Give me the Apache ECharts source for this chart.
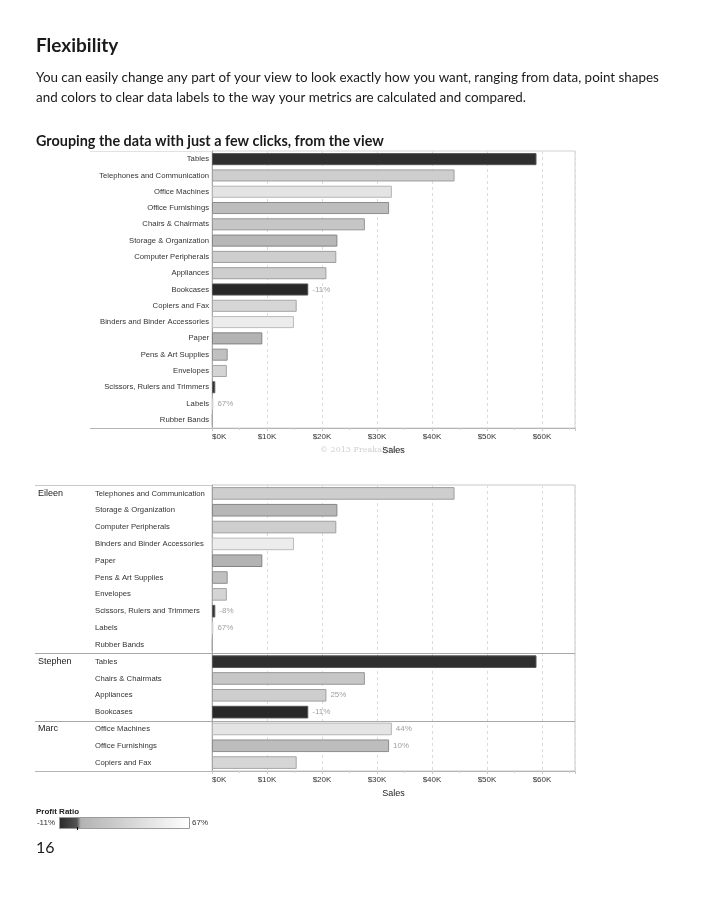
<!DOCTYPE html>
<html><head><meta charset="utf-8">
<script src="https://cdn.jsdelivr.net/npm/echarts@6/dist/echarts.min.js"></script>
<style>html,body{margin:0;padding:0;background:#fff}#c{width:720px;height:900px}</style>
</head><body><div id="c"></div>
<script>
// ---------- data ----------
const subCategories = ['Tables','Telephones and Communication','Office Machines','Office Furnishings','Chairs & Chairmats','Storage & Organization','Computer Peripherals','Appliances','Bookcases','Copiers and Fax','Binders and Binder Accessories','Paper','Pens & Art Supplies','Envelopes','Scissors, Rulers and Trimmers','Labels','Rubber Bands'];
const sales = [59000,44100,32700,32200,27800,22800,22600,20800,17500,15400,14900,9150,2850,2700,600,250,120];
const profitRatio = [-0.093,0.25,0.44,0.10,0.18,0.05,0.25,0.25,-0.11,0.32,0.51,0.02,0.13,0.30,-0.08,0.67,0.30];
const managers = ['Eileen','Stephen','Marc'];
const eileenItems = ['Telephones and Communication','Storage & Organization','Computer Peripherals','Binders and Binder Accessories','Paper','Pens & Art Supplies','Envelopes','Scissors, Rulers and Trimmers','Labels','Rubber Bands'];
const stephenItems = ['Tables','Chairs & Chairmats','Appliances','Bookcases'];
const marcItems = ['Office Machines','Office Furnishings','Copiers and Fax'];
const topLabelled = ['Bookcases','Labels'];
const bottomLabelled = ['Scissors, Rulers and Trimmers','Labels','Appliances','Bookcases','Office Machines','Office Furnishings'];
const salesTicks = [0,10000,20000,30000,40000,50000,60000];
const ratioRange = [-0.11, 0.67];

// ---------- helpers ----------
function grayOf(r){
  let g;
  if (r < 0) g = 40 + (r - ratioRange[0]) / (0 - ratioRange[0]) * 45;
  else g = 177 + (255 - 177) * Math.min(r / ratioRange[1], 1);
  return Math.round(Math.max(0, Math.min(255, g)));
}
function rgb(g){ return 'rgb(' + g + ',' + g + ',' + g + ')'; }
function pct(r){ return Math.round(r * 100) + '%'; }
function barItem(name, labelled){
  const i = subCategories.indexOf(name);
  const g = grayOf(profitRatio[i]);
  const b = g < 128 ? Math.min(255, g + 40) : g - 48;
  return {
    value: sales[i],
    itemStyle: { color: rgb(g), borderColor: rgb(b), borderWidth: 1 },
    label: { show: labelled.indexOf(name) >= 0, formatter: pct(profitRatio[i]) }
  };
}

const bottomCats = eileenItems.concat(stephenItems, marcItems);
const groupStarts = [0, eileenItems.length, eileenItems.length + stephenItems.length];

// ---------- layout ----------
const G1 = { left: 212, top: 151, width: 363, height: 277 };
const G2 = { left: 212, top: 485, width: 363, height: 286 };
const FONT = '"Liberation Sans", Arial, sans-serif';
const TXT = 'Lato, "Open Sans", sans-serif';

function xAxisCfg(gi){
  return {
    type: 'value', gridIndex: gi, min: 0, max: 66000, interval: 10000,
    axisLine: { show: true, lineStyle: { color: '#b5b5b5' } },
    axisTick: { show: true, length: 3, lineStyle: { color: '#c8c8c8' } },
    minorTick: { show: true, splitNumber: 2, length: 2, lineStyle: { color: '#d0d0d0' } },
    axisLabel: { fontSize: 8, fontFamily: FONT, color: '#333', margin: 5, showMaxLabel: false,
      alignMinLabel: 'left',
      formatter: v => salesTicks.indexOf(v) >= 0 ? '$' + (v / 1000) + 'K' : '' },
    splitLine: { show: true, lineStyle: { type: [3, 3], color: '#dcdcdc' } },
    name: 'Sales', nameLocation: 'middle', nameGap: 18,
    nameTextStyle: { fontSize: 9, fontFamily: FONT, color: '#222' }
  };
}
const barLabel = { position: 'right', distance: 4, color: '#a0a0a0', fontSize: 8, fontFamily: FONT };

const option = {
  backgroundColor: '#fff',
  animation: false,
  grid: [
    Object.assign({ show: true, borderColor: '#d2d2d2', borderWidth: 1, containLabel: false }, G1),
    Object.assign({ show: true, borderColor: '#c8c8c8', borderWidth: 1, containLabel: false }, G2)
  ],
  xAxis: [xAxisCfg(0), xAxisCfg(1)],
  yAxis: [
    { type: 'category', gridIndex: 0, inverse: true, data: subCategories,
      axisLine: { show: true, lineStyle: { color: '#a8a8a8' } }, axisTick: { show: false },
      axisLabel: { fontSize: 7.7, fontFamily: FONT, color: '#333', margin: 3, interval: 0 } },
    { type: 'category', gridIndex: 1, inverse: true, data: bottomCats,
      axisLine: { show: true, lineStyle: { color: '#a8a8a8' } }, axisTick: { show: false },
      axisLabel: { align: 'left', margin: 174, interval: 0,
        formatter: (v, idx) => {
          const gi = groupStarts.indexOf(idx);
          return '{g|' + (gi >= 0 ? managers[gi] : ' ') + '}{c|' + v + '}';
        },
        rich: {
          g: { width: 57, fontSize: 9, fontFamily: FONT, color: '#222' },
          c: { fontSize: 7.7, fontFamily: FONT, color: '#333' }
        } } }
  ],
  series: [
    { type: 'bar', xAxisIndex: 0, yAxisIndex: 0, barCategoryGap: '26%', label: barLabel,
      data: subCategories.map(n => barItem(n, topLabelled)) },
    { type: 'bar', xAxisIndex: 1, yAxisIndex: 1, barCategoryGap: '25%', label: barLabel,
      data: bottomCats.map(n => barItem(n, bottomLabelled)) }
  ]
};

const chart = echarts.init(document.getElementById('c'), null, { renderer: 'canvas' });
chart.setOption(option);

// ---------- text, separators, legend ----------
const gfx = [];
function text(t, x, y, font, fill, align){
  gfx.push({ type: 'text', x: x, y: y, silent: true,
    style: { text: t, font: font, fill: fill || '#1a1a1a', align: align || 'left', verticalAlign: 'middle' } });
}
function line(x1, y1, x2, y2, color){
  gfx.push({ type: 'line', silent: true, shape: { x1: x1, y1: y1, x2: x2, y2: y2 },
    style: { stroke: color, lineWidth: 1 } });
}
text('Flexibility', 36, 46, 'bold 19px ' + TXT);
text('You can easily change any part of your view to look exactly how you want, ranging from data, point shapes', 36, 78, '13.4px ' + TXT);
text('and colors to clear data labels to the way your metrics are calculated and compared.', 36, 98, '13.4px ' + TXT);
text('Grouping the data with just a few clicks, from the view', 36, 141, 'bold 14.4px ' + TXT);
text('16', 36, 848, '16px ' + TXT);
text('\u00a9 2013 Freakalytics', 320, 450, '8px "DejaVu Serif", serif', '#cfcfcf');

// top chart left extensions
line(90, G1.top + 0.5, G1.left, G1.top + 0.5, '#e2e2e2');
line(90, G1.top + G1.height + 0.5, G1.left, G1.top + G1.height + 0.5, '#b5b5b5');
// bottom chart frame lines & group separators computed through the category scale
const yc = i => chart.convertToPixel({ yAxisIndex: 1 }, i);
const rowH = yc(1) - yc(0);
line(35, G2.top + 0.5, G2.left, G2.top + 0.5, '#c8c8c8');
line(35, G2.top + G2.height + 0.5, G2.left, G2.top + G2.height + 0.5, '#b5b5b5');
for (let k = 1; k < groupStarts.length; k++) {
  const y = Math.round(yc(groupStarts[k]) - rowH / 2) + 0.5;
  line(35, y, G2.left + G2.width, y, '#a8a8a8');
}

// profit ratio legend
const LX = 59, LW = 130, LY = 817, LH = 11;
text('Profit Ratio', 36, 812, 'bold 8px ' + FONT, '#222');
text(pct(ratioRange[0]), 55, LY + LH / 2, '8px ' + FONT, '#333', 'right');
text(pct(ratioRange[1]), LX + LW + 3, LY + LH / 2, '8px ' + FONT, '#333');
const span = ratioRange[1] - ratioRange[0];
const stopsR = [ratioRange[0], -0.06, -0.003, 0.02, 0.2, 0.4, ratioRange[1]];
gfx.push({ type: 'rect', silent: true, shape: { x: LX + 0.5, y: LY + 0.5, width: LW, height: LH },
  style: { stroke: '#9a9a9a', lineWidth: 1,
    fill: new echarts.graphic.LinearGradient(0, 0, 1, 0,
      stopsR.map(r => ({ offset: (r - ratioRange[0]) / span, color: rgb(grayOf(r)) }))) } });
const zx = Math.round(LX + LW * (0 - ratioRange[0]) / span) + 0.5;
line(zx, LY + LH - 1, zx, LY + LH + 2, '#000');

chart.setOption({ graphic: gfx });
</script></body></html>
